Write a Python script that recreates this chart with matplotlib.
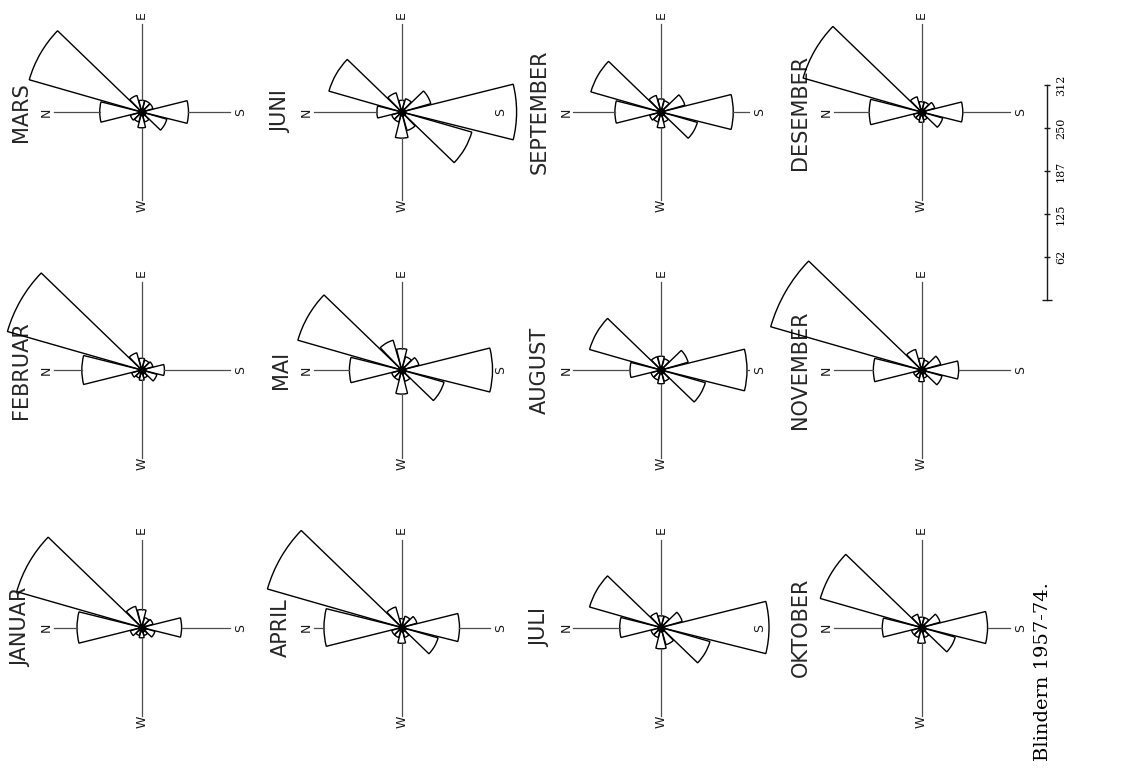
import numpy as np
import matplotlib
matplotlib.use("Agg")
import matplotlib.pyplot as plt

# wind directions, degrees from north (12 sectors of 30 degrees)
directions = np.arange(0, 360, 30)

months = ["JANUAR", "FEBRUAR", "MARS", "APRIL", "MAI", "JUNI",
          "JULI", "AUGUST", "SEPTEMBER", "OKTOBER", "NOVEMBER", "DESEMBER"]

# frequencies per sector: N, 30, 60, E, 120, 150, S, 210, 240, W, 300, 330
januar = [94, 189, 32, 26, 15, 17, 58, 20, 12, 15, 12, 17]
februar = [87, 203, 26, 17, 15, 17, 33, 23, 12, 15, 12, 15]
mars = [61, 170, 25, 17, 17, 17, 68, 38, 15, 23, 15, 17]
april = [113, 203, 31, 13, 17, 23, 84, 55, 15, 23, 15, 15]
mai = [76, 157, 45, 31, 20, 26, 132, 64, 17, 35, 15, 15]
juni = [36, 110, 29, 17, 20, 44, 167, 106, 28, 38, 15, 15]
juli = [60, 108, 22, 17, 17, 32, 157, 74, 26, 31, 15, 15]
august = [45, 108, 20, 20, 17, 41, 125, 67, 17, 20, 15, 15]
september = [67, 106, 25, 19, 17, 36, 105, 55, 15, 23, 15, 17]
oktober = [57, 153, 20, 15, 15, 28, 96, 51, 15, 23, 15, 15]
november = [70, 228, 31, 17, 15, 29, 54, 31, 12, 17, 12, 12]
desember = [76, 179, 23, 15, 15, 20, 60, 32, 12, 15, 12, 12]

month_data = [januar, februar, mars, april, mai, juni,
              juli, august, september, oktober, november, desember]

# scale bar
scale_ticks = [62.5, 125, 187.5, 250, 312.5]
scale_labels = ["62", "125", "187", "250", "312"]

W, H = 1122, 776
fig = plt.figure(figsize=(W / 100, H / 100), dpi=100)
base = fig.add_axes([0, 0, 1, 1])
base.set_xlim(0, W)
base.set_ylim(H, 0)
base.axis("off")

px = 43 / 62.5      # pixels per unit
AXR = 175           # polar axes radius in pixels
col_x = [141.7, 401.7, 661, 921.5]
row_y = [112, 370, 627.5]

th = np.deg2rad(directions)
for i, (name, vals) in enumerate(zip(months, month_data)):
    cx = col_x[i // 3]
    cy = row_y[2 - i % 3]
    ax = fig.add_axes([(cx - AXR) / W, 1 - (cy + AXR) / H, 2 * AXR / W, 2 * AXR / H],
                      projection="polar")
    ax.set_theta_zero_location("W")
    ax.set_theta_direction(-1)
    ax.set_ylim(0, AXR / px)
    ax.axis("off")
    ax.bar(th, vals, width=np.deg2rad(28), bottom=0, fill=False,
           edgecolor="black", linewidth=1.0)
    # compass arms
    for d, lab, rl in [(0, "N", 95), (90, "E", 97), (180, "S", 99), (270, "W", 94)]:
        r0 = vals[d // 30]
        if r0 < 88 / px:
            ax.plot([np.deg2rad(d)] * 2, [r0, 88 / px], color="0.3", lw=0.9)
        ax.text(np.deg2rad(d), rl / px, lab, rotation=90, ha="center", va="center",
                fontsize=9, color="0.1")
    ax.plot(0, 0, "o", color="black", ms=5)
    base.text(cx - 121, cy, name, rotation=90, ha="center", va="center",
              fontsize=15, color="0.15")

# scale bar
y0 = 300
sx = 1047
ys = [y0 - t * px for t in scale_ticks]
base.plot([sx, sx], [y0, ys[-1]], color="0.1", lw=1)
base.hlines([y0], sx - 5, sx + 5, color="0.1", lw=1)
base.hlines(ys, sx - 3, sx + 3, color="0.1", lw=1)
for y, lab in zip(ys, scale_labels):
    base.text(sx + 14, y, lab, rotation=90, ha="center", va="center",
              fontsize=8, family="DejaVu Serif")

base.text(1043, 672, "Blindern 1957-74.", rotation=90, ha="center", va="center",
          fontsize=14, family="DejaVu Serif")

fig.savefig("out.png", dpi=100)
